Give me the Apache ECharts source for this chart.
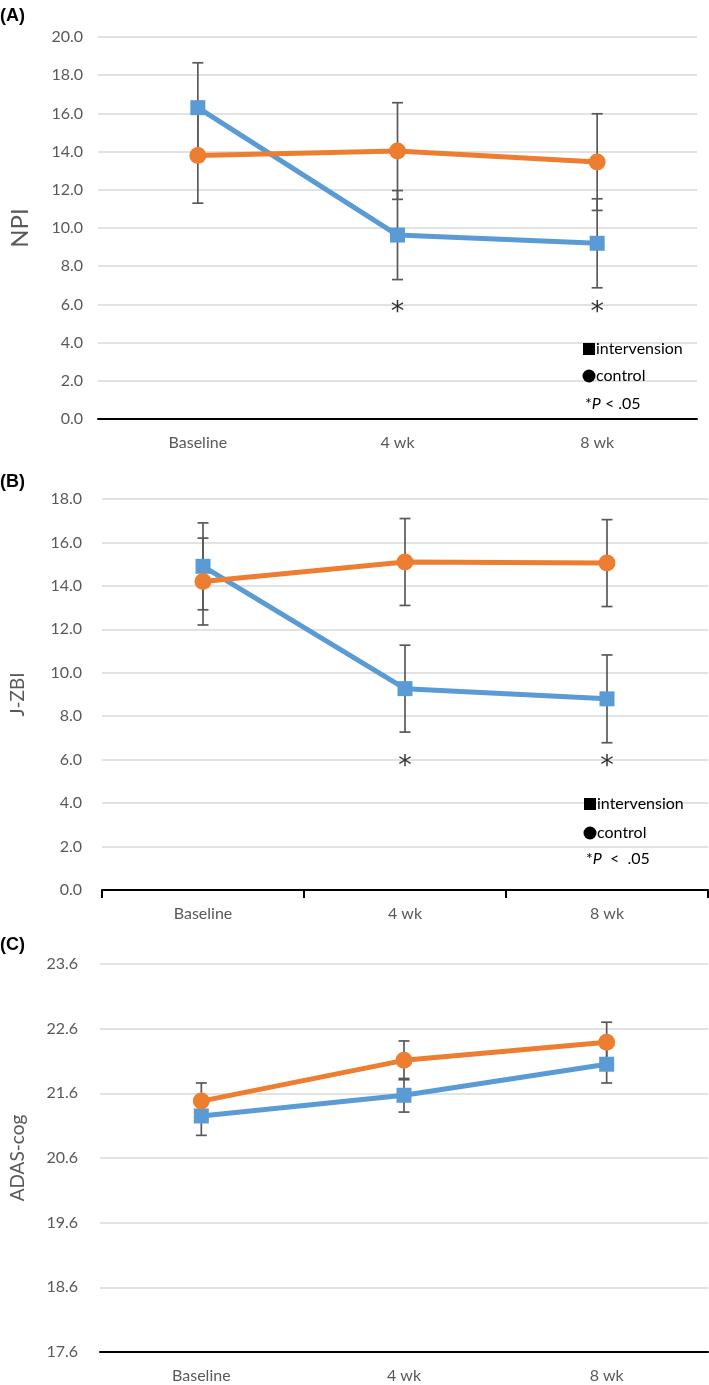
<!DOCTYPE html>
<html>
<head>
<meta charset="utf-8">
<script src="https://cdn.jsdelivr.net/npm/echarts@6/dist/echarts.min.js"></script>
<style>
  html, body { margin: 0; padding: 0; background: #fff; }
  #chart { width: 709px; height: 1385px; }
</style>
</head>
<body>
<div id="chart"></div>
<script>
const categories = ['Baseline', '4 wk', '8 wk'];

// (A) NPI
const npiIntervention = [16.3, 9.63, 9.2];
const npiInterventionSd = [2.35, 2.33, 2.33];
const npiControl = [13.8, 14.03, 13.45];
const npiControlSd = [2.5, 2.53, 2.53];
const npiSig = [null, 5.9, 5.9];

// (B) J-ZBI
const zbiIntervention = [14.9, 9.27, 8.8];
const zbiInterventionSd = [2.0, 2.0, 2.02];
const zbiControl = [14.2, 15.1, 15.05];
const zbiControlSd = [2.0, 2.0, 2.0];
const zbiSig = [null, 6.0, 6.0];

// (C) ADAS-cog
const adasIntervention = [21.25, 21.57, 22.05];
const adasInterventionSd = [0.3, 0.26, 0.29];
const adasControl = [21.48, 22.11, 22.39];
const adasControlSd = [0.28, 0.3, 0.31];

// y-axis tick ranges
const npiTicks = { min: 0, max: 20, interval: 2 };
const zbiTicks = { min: 0, max: 18, interval: 2 };
const adasTicks = { min: 17.6, max: 23.6, interval: 1 };

const BLUE = '#5B9BD5';
const ORANGE = '#ED7D31';
const GREY = '#595959';
const FONT = 'Lato, "Open Sans", sans-serif';

const chart = echarts.init(document.getElementById('chart'));

const grids = [
  { left: 97, top: 37, width: 600, height: 382 },
  { left: 101, top: 499, width: 607, height: 391 },
  { left: 100, top: 964, width: 608, height: 388 }
];

function xAxis(idx, ticks) {
  return {
    type: 'category', gridIndex: idx, data: categories, boundaryGap: true,
    axisLine: { lineStyle: { color: '#000', width: 2 } },
    axisTick: { show: ticks, length: 8, lineStyle: { color: '#000', width: 2 } },
    axisLabel: { color: GREY, fontSize: 16, fontFamily: FONT, margin: 16 }
  };
}

function yAxis(idx, range, name, nameSize, nameGap, labelMargin) {
  return {
    type: 'value', gridIndex: idx, min: range.min, max: range.max, interval: range.interval,
    name: name, nameLocation: 'middle', nameGap: nameGap,
    nameTextStyle: { color: GREY, fontSize: nameSize, fontFamily: FONT },
    axisLine: { show: false }, axisTick: { show: false },
    axisLabel: { color: GREY, fontSize: 16, fontFamily: FONT, margin: labelMargin,
      formatter: v => v.toFixed(1) },
    splitLine: { lineStyle: { color: '#d9d9d9', width: 1.5 } }
  };
}

// vertical mean ± SD whiskers with caps
function errorBars(idx, means, sds) {
  return {
    type: 'custom', xAxisIndex: idx, yAxisIndex: idx, z: 1, silent: true,
    data: means.map((m, i) => [i, m - sds[i], m + sds[i]]),
    encode: { x: 0, y: [1, 2] },
    renderItem: (params, api) => {
      const lo = api.coord([api.value(0), api.value(1)]);
      const hi = api.coord([api.value(0), api.value(2)]);
      const hw = 5.5;
      const style = { stroke: GREY, lineWidth: 1.7 };
      return {
        type: 'group',
        children: [
          { type: 'line', shape: { x1: lo[0], y1: lo[1], x2: hi[0], y2: hi[1] }, style },
          { type: 'line', shape: { x1: lo[0] - hw, y1: lo[1], x2: lo[0] + hw, y2: lo[1] }, style },
          { type: 'line', shape: { x1: hi[0] - hw, y1: hi[1], x2: hi[0] + hw, y2: hi[1] }, style }
        ]
      };
    }
  };
}

function lineSeries(idx, name, values, color, symbol, size) {
  return {
    type: 'line', name: name, xAxisIndex: idx, yAxisIndex: idx, z: 3,
    data: values, symbol: symbol, symbolSize: size,
    lineStyle: { color: color, width: 5 },
    itemStyle: { color: color }
  };
}

function sigSeries(idx, values) {
  return {
    type: 'scatter', xAxisIndex: idx, yAxisIndex: idx, z: 4, silent: true,
    data: values.map(v => (v == null ? '-' : v)),
    symbolSize: 1, itemStyle: { color: 'rgba(0,0,0,0)' },
    label: { show: true, formatter: '*', position: 'inside', offset: [0, 7],
      color: '#000', fontSize: 27, fontFamily: 'DejaVu Sans' }
  };
}

function legendBox(x, y1, y2, y3, pText) {
  const txt = { fill: '#000', fontSize: 16, fontFamily: FONT, verticalAlign: 'middle' };
  return [
    { type: 'rect', z: 10, shape: { x: x, y: y1 - 6, width: 12, height: 12 }, style: { fill: '#000' } },
    { type: 'text', z: 10, x: x + 13, y: y1, style: Object.assign({ text: 'intervension' }, txt) },
    { type: 'circle', z: 10, shape: { cx: x + 6, cy: y2, r: 6.5 }, style: { fill: '#000' } },
    { type: 'text', z: 10, x: x + 13, y: y2, style: Object.assign({ text: 'control' }, txt) },
    { type: 'text', z: 10, x: x + 2, y: y3, style: Object.assign({
        text: pText,
        rich: { i: { fontStyle: 'italic', fontSize: 16, fontFamily: FONT, fill: '#000' } }
      }, txt) }
  ];
}

function panelTitle(text, y) {
  return { type: 'text', x: 0, y: y, style: { text: text, fill: '#000',
    font: 'bold 18px "Liberation Sans", Arial, sans-serif', verticalAlign: 'middle' } };
}

const option = {
  animation: false,
  grid: grids,
  xAxis: [xAxis(0, false), xAxis(1, true), xAxis(2, false)],
  yAxis: [
    yAxis(0, npiTicks, 'NPI', 24, 66, 15),
    yAxis(1, zbiTicks, 'J-ZBI', 19, 75, 20),
    yAxis(2, adasTicks, 'ADAS-cog', 19, 73, 22)
  ],
  series: [
    errorBars(0, npiIntervention, npiInterventionSd),
    errorBars(0, npiControl, npiControlSd),
    lineSeries(0, 'intervension', npiIntervention, BLUE, 'rect', 15),
    lineSeries(0, 'control', npiControl, ORANGE, 'circle', 17),
    sigSeries(0, npiSig),

    errorBars(1, zbiIntervention, zbiInterventionSd),
    errorBars(1, zbiControl, zbiControlSd),
    lineSeries(1, 'intervension', zbiIntervention, BLUE, 'rect', 15),
    lineSeries(1, 'control', zbiControl, ORANGE, 'circle', 17),
    sigSeries(1, zbiSig),

    errorBars(2, adasIntervention, adasInterventionSd),
    errorBars(2, adasControl, adasControlSd),
    lineSeries(2, 'intervension', adasIntervention, BLUE, 'rect', 15),
    lineSeries(2, 'control', adasControl, ORANGE, 'circle', 17)
  ],
  graphic: [
    panelTitle('(A)', 16),
    panelTitle('(B)', 482),
    panelTitle('(C)', 945),
    ...legendBox(583, 349, 376, 404, '*{i|P} < .05'),
    ...legendBox(584, 804, 833, 859, '*{i|P}  <  .05')
  ]
};

chart.setOption(option);
</script>
</body>
</html>
